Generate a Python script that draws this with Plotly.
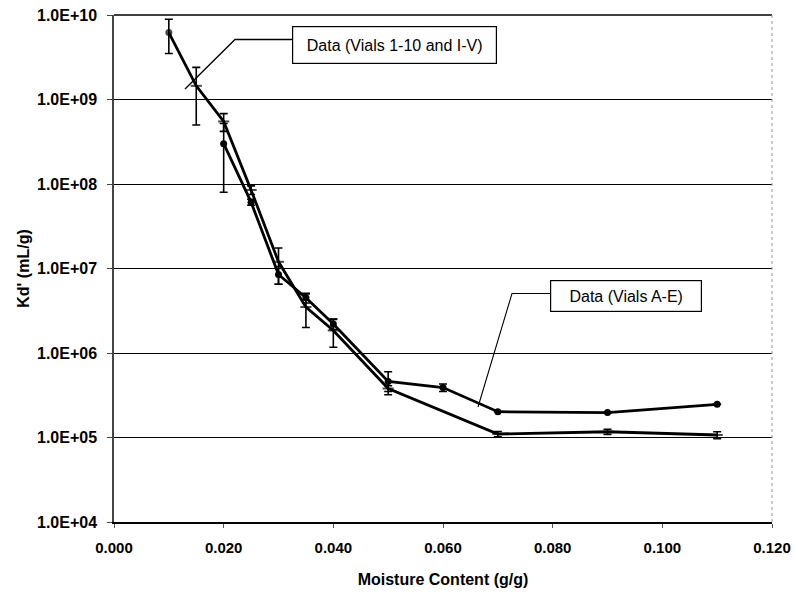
import plotly.graph_objects as go

# Series "Vials 1-10 and I-V" (dash markers with error bars)
x_a = [0.010, 0.015, 0.020, 0.025, 0.030, 0.035, 0.040, 0.050, 0.070, 0.090, 0.110]
y_a = [6.2e9, 1.45e9, 5.5e8, 8.5e7, 1.2e7, 3.5e6, 1.85e6, 3.8e5, 1.10e5, 1.17e5, 1.07e5]
e_a = [2.7e9, 0.95e9, 1.3e8, 1.0e7, 0.55e7, 1.5e6, 0.68e6, 0.3e5, 0.08e5, 0.08e5, 0.10e5]
sym_a = ["circle"] + ["line-ew"] * 10
size_a = [5] + [8] * 10

# Series "Vials A-E" (dot markers)
x_b = [0.020, 0.025, 0.030, 0.035, 0.040, 0.050, 0.060, 0.070, 0.090, 0.110]
y_b = [3.0e8, 6.1e7, 8.5e6, 4.5e6, 2.2e6, 4.6e5, 3.9e5, 2.02e5, 1.97e5, 2.47e5]
e_b = [2.2e8, 0.5e7, 2.0e6, 0.6e6, 0.3e6, 1.4e5, 0.4e5, 0.0, 0.0, 0.0]

ytick_vals = [1e4, 1e5, 1e6, 1e7, 1e8, 1e9, 1e10]
ytick_text = ["1.0E+04", "1.0E+05", "1.0E+06", "1.0E+07", "1.0E+08", "1.0E+09", "1.0E+10"]
xtick_vals = [0.0, 0.02, 0.04, 0.06, 0.08, 0.10, 0.12]
xtick_text = ["0.000", "0.020", "0.040", "0.060", "0.080", "0.100", "0.120"]

label_a = "Data (Vials 1-10 and I-V)"
label_b = "Data (Vials A-E)"

FONT = "Liberation Sans, Arial, sans-serif"

fig = go.Figure()
fig.add_trace(go.Scatter(
    x=x_a, y=y_a, mode="lines+markers", name=label_a,
    line=dict(color="black", width=2.8),
    marker=dict(symbol=sym_a, size=size_a, color="black", line=dict(color="black", width=2)),
    error_y=dict(type="data", array=e_a, visible=True, color="black", thickness=1.6, width=4),
))
fig.add_trace(go.Scatter(
    x=x_b, y=y_b, mode="lines+markers", name=label_b,
    line=dict(color="black", width=2.8),
    marker=dict(symbol="circle", size=7, color="black"),
    error_y=dict(type="data", array=e_b, visible=True, color="black", thickness=1.6, width=4),
))

fig.update_layout(
    width=794, height=598,
    margin=dict(l=114, r=22, t=15, b=76),
    paper_bgcolor="white", plot_bgcolor="white",
    showlegend=False,
    font=dict(family=FONT, color="black", size=15),
    xaxis=dict(
        range=[0, 0.12], tickvals=xtick_vals, ticktext=xtick_text,
        automargin=False,
        showgrid=False, zeroline=False,
        showline=True, linecolor="black", linewidth=1.5,
        ticks="outside", ticklen=4, tickcolor="#555",
        ticklabelstandoff=7,
        tickfont=dict(size=15, family=FONT, weight="bold"),
        title=dict(text="<b>Moisture Content (g/g)</b>", font=dict(size=16, family=FONT), standoff=19),
    ),
    yaxis=dict(
        type="log", range=[4, 10], tickvals=ytick_vals, ticktext=ytick_text,
        automargin=False,
        showgrid=True, gridcolor="black", gridwidth=1,
        zeroline=False,
        showline=True, linecolor="#444", linewidth=1.5,
        ticks="outside", ticklen=5, tickcolor="#444",
        ticklabelstandoff=7,
        tickfont=dict(size=16, family=FONT, weight="bold"),
        title=dict(text="<b>Kd' (mL/g)</b>", font=dict(size=16, family=FONT), standoff=3),
    ),
)

def px(xp):
    return (xp - 114) / 658.0

def py(yp):
    return (522 - yp) / 507.0

# top frame and dotted right frame
fig.add_shape(type="line", xref="paper", yref="paper", x0=0, x1=1, y0=1, y1=1,
              line=dict(color="black", width=1.5))
fig.add_shape(type="line", xref="paper", yref="paper", x0=1, x1=1, y0=0, y1=1,
              line=dict(color="#999", width=1, dash="dot"))

# callout leader lines
fig.add_shape(type="path", xref="paper", yref="paper",
              path=f"M {px(292)} {py(39.5)} L {px(235)} {py(39.5)} L {px(185)} {py(89)}",
              line=dict(color="black", width=1.3))
fig.add_shape(type="path", xref="paper", yref="paper",
              path=f"M {px(551)} {py(293.5)} L {px(512)} {py(293.5)} L {px(478)} {py(407)}",
              line=dict(color="black", width=1.1))

fig.add_annotation(x=px(394.5), y=py(45), xref="paper", yref="paper", showarrow=False,
                   text=label_a, font=dict(size=16, family=FONT),
                   bgcolor="white", bordercolor="black", borderwidth=1.2, borderpad=2,
                   width=199, height=32, xanchor="center", yanchor="middle")
fig.add_annotation(x=px(626), y=py(296), xref="paper", yref="paper", showarrow=False,
                   text=label_b, font=dict(size=16, family=FONT),
                   bgcolor="white", bordercolor="black", borderwidth=1.2, borderpad=2,
                   width=146, height=26, xanchor="center", yanchor="middle")

fig.write_html("out.html")
